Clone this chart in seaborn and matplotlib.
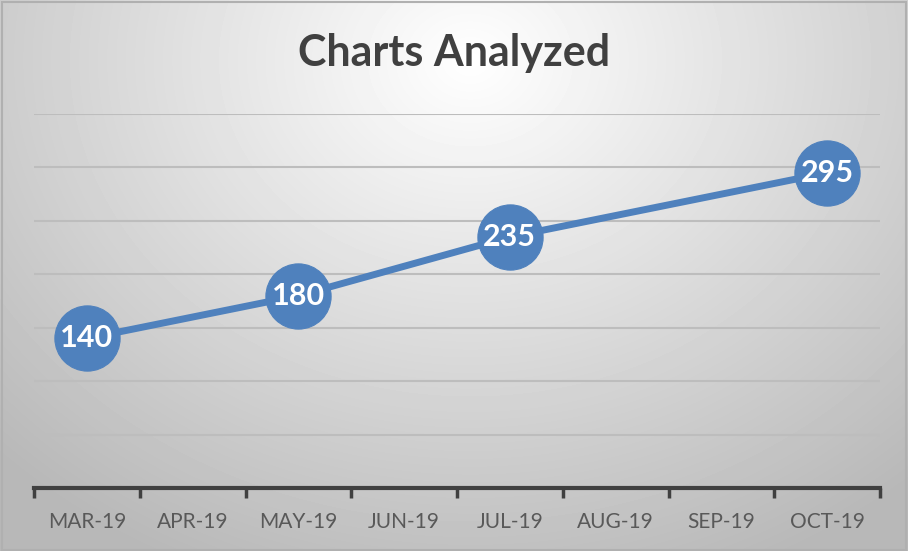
import numpy as np
import pandas as pd
import matplotlib
matplotlib.use("Agg")
from matplotlib import pyplot as plt
import seaborn as sns

months = ['MAR-19', 'APR-19', 'MAY-19', 'JUN-19', 'JUL-19', 'AUG-19', 'SEP-19', 'OCT-19']
charts = [140, np.nan, 180, np.nan, 235, np.nan, np.nan, 295]

df = pd.DataFrame({'month': months, 'charts': charts})
df['pos'] = range(len(months))
pts = df.dropna()

sns.set_style('white')
plt.rcParams['font.family'] = ['Lato', 'DejaVu Sans']

fig = plt.figure(figsize=(9.08, 5.51), dpi=100)

# radial grey gradient background like the Excel chart area
bg = fig.add_axes([0, 0, 1, 1], zorder=-10)
yy, xx = np.mgrid[0:551, 0:908]
r = np.sqrt(((xx - 470) / 620.0) ** 2 + ((yy - 60) / 520.0) ** 2)
shade = np.clip(1.0 - 0.26 * r, 0.72, 1.0)
bg.imshow(shade, cmap='gray', vmin=0, vmax=1, aspect='auto', extent=[0, 1, 0, 1])
bg.set_axis_off()
fig.patches.append(plt.Rectangle((0.002, 0.002), 0.996, 0.994, transform=fig.transFigure,
                                 fill=False, edgecolor='#b0b0b0', linewidth=1.5))

ax = fig.add_axes([34 / 908, 63 / 551, 846 / 908, 374 / 551])
ax.patch.set_alpha(0)

blue = '#4f81bd'
sns.lineplot(data=pts, x='pos', y='charts', ax=ax, color=blue, linewidth=5,
             marker='o', markersize=47, markeredgecolor=blue, markerfacecolor=blue, zorder=3)

for _, row in pts.iterrows():
    ax.text(row['pos'], row['charts'], f"{int(row['charts'])}", ha='center', va='center',
            color='white', fontsize=22, fontweight='bold', zorder=4)

ax.set_xlim(-0.5, len(months) - 0.5)
ax.set_ylim(0, 350)
ax.set_yticks(np.arange(50, 351, 50))
ax.yaxis.grid(True, color='#bdbdbd', linewidth=1.5)
ax.set_yticklabels([])
ax.tick_params(axis='y', length=0)

ax.set_xticks(range(len(months)))
ax.set_xticklabels(months, color='#595959', fontsize=15)
ax.tick_params(axis='x', which='major', bottom=True, length=0, pad=17)
ax.set_xticks(np.arange(-0.5, len(months), 1.0), minor=True)
ax.tick_params(axis='x', which='minor', bottom=True, length=7, width=2.5,
               color='#404040', direction='out')

for s in ['top', 'right', 'left']:
    ax.spines[s].set_visible(False)
ax.spines['bottom'].set_color('#404040')
ax.spines['bottom'].set_linewidth(3)
ax.set_xlabel('')
ax.set_ylabel('')

fig.text(0.5, 0.903, 'Charts Analyzed', ha='center', va='center', fontsize=31,
         fontweight='bold', color='#404040')

fig.savefig('out.png', dpi=100)
